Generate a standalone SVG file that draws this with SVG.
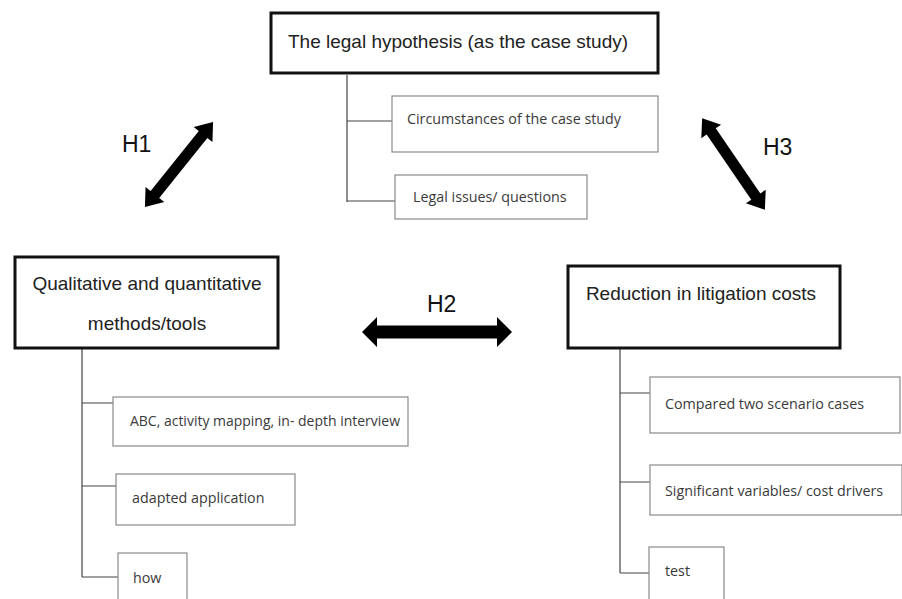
<svg xmlns="http://www.w3.org/2000/svg" width="902" height="599" viewBox="0 0 902 599">
  <style>
    .main { fill: #fff; stroke: #111; stroke-width: 3; }
    .sub { fill: #fff; stroke: #8a8a8a; stroke-width: 1.2; }
    .link { fill: none; stroke: #444; stroke-width: 1.2; }
    .arrow { fill: #000; }
    .mtxt { font-family: "Liberation Sans", Arial, sans-serif; font-size: 19px; fill: #222; }
    .stxt { font-family: "Open Sans", "DejaVu Sans", sans-serif; font-size: 14.3px; fill: #3a3a3a; }
    .htxt { font-family: "Liberation Sans", Arial, sans-serif; font-size: 23px; fill: #111; }
  </style>

  <!-- tree connectors -->
  <g id="connectors">
    <path class="link" d="M347 75 V202 M347 121 H392 M347 201 H395"/>
    <path class="link" d="M82 349 V577 M82 403 H113 M82 486 H116 M82 577 H118"/>
    <path class="link" d="M620 349 V573 M620 393 H650 M620 482 H650 M620 573 H649"/>
  </g>

  <!-- hypothesis arrows -->
  <g id="h1">
    <polygon class="arrow" transform="translate(179 164.5) rotate(-51.3)" points="-54.5,0 -38.5,-12 -38.5,-5.5 38.5,-5.5 38.5,-12 54.5,0 38.5,12 38.5,5.5 -38.5,5.5 -38.5,12"/>
    <text class="htxt" x="122" y="152">H1</text>
  </g>
  <g id="h2">
    <polygon class="arrow" transform="translate(437 332)" points="-75,0 -60,-15 -60,-6.5 60,-6.5 60,-15 75,0 60,15 60,6.5 -60,6.5 -60,15"/>
    <text class="htxt" x="427" y="312">H2</text>
  </g>
  <g id="h3">
    <polygon class="arrow" transform="translate(733.5 164) rotate(55.6)" points="-55.5,0 -39.5,-12 -39.5,-5.5 39.5,-5.5 39.5,-12 55.5,0 39.5,12 39.5,5.5 -39.5,5.5 -39.5,12"/>
    <text class="htxt" x="763" y="155">H3</text>
  </g>

  <!-- top: legal hypothesis -->
  <g id="legal-hypothesis">
    <rect class="main" x="271" y="13" width="387" height="60"/>
    <text class="mtxt" x="458" y="48" text-anchor="middle">The legal hypothesis (as the case study)</text>
  </g>
  <g id="circumstances">
    <rect class="sub" x="392" y="96" width="266" height="56"/>
    <text class="stxt" x="407" y="124">Circumstances of the case study</text>
  </g>
  <g id="legal-issues">
    <rect class="sub" x="395" y="175" width="192" height="44"/>
    <text class="stxt" x="413" y="202">Legal issues/ questions</text>
  </g>

  <!-- left: methods -->
  <g id="methods">
    <rect class="main" x="15" y="257" width="263" height="91"/>
    <text class="mtxt" x="147" y="290" text-anchor="middle">Qualitative and quantitative</text>
    <text class="mtxt" x="147" y="330" text-anchor="middle">methods/tools</text>
  </g>
  <g id="abc">
    <rect class="sub" x="113" y="397" width="295" height="49"/>
    <text class="stxt" x="130" y="426" textLength="270" lengthAdjust="spacingAndGlyphs">ABC, activity mapping, in- depth interview</text>
  </g>
  <g id="adapted">
    <rect class="sub" x="116" y="474" width="179" height="51"/>
    <text class="stxt" x="132" y="503">adapted application</text>
  </g>
  <g id="how">
    <rect class="sub" x="118" y="553" width="69" height="60"/>
    <text class="stxt" x="133" y="583">how</text>
  </g>

  <!-- right: litigation costs -->
  <g id="reduction">
    <rect class="main" x="568" y="266" width="272" height="82"/>
    <text class="mtxt" x="701" y="300" text-anchor="middle">Reduction in litigation costs</text>
  </g>
  <g id="compared">
    <rect class="sub" x="650" y="377" width="250" height="56"/>
    <text class="stxt" x="665" y="409">Compared two scenario cases</text>
  </g>
  <g id="significant">
    <rect class="sub" x="650" y="465" width="252" height="50"/>
    <text class="stxt" x="665" y="496">Significant variables/ cost drivers</text>
  </g>
  <g id="test">
    <rect class="sub" x="649" y="547" width="75" height="60"/>
    <text class="stxt" x="665" y="576">test</text>
  </g>
</svg>
